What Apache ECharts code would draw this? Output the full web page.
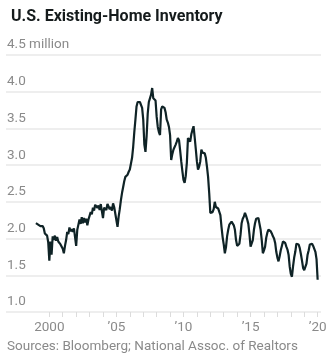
<!DOCTYPE html>
<html>
<head>
<meta charset="utf-8">
<script src="https://cdn.jsdelivr.net/npm/echarts@6/dist/echarts.min.js"></script>
<style>
  html, body { margin: 0; padding: 0; background: #fff; }
  #chart { width: 331px; height: 362px; }
</style>
</head>
<body>
<div id="chart"></div>
<script>
// Existing-home inventory, millions of units, monthly (Jan..Dec)
const startYear = 1999;
const inv1999 = [2.21, 2.21, 2.19, 2.20, 2.17, 2.16, 2.17, 2.14, 2.07, 2.05, 2.04, 1.95];
const inv2000 = [1.70, 1.96, 1.78, 2.03, 1.98, 2.04, 1.97, 2.02, 1.96, 1.98, 1.92, 1.90];
const inv2001 = [1.86, 1.80, 1.90, 1.98, 2.09, 2.06, 2.15, 2.10, 2.13, 2.09, 2.14, 2.16];
const inv2002 = [1.90, 2.12, 2.19, 2.26, 2.20, 2.29, 2.21, 2.28, 2.22, 2.27, 2.18, 2.26];
const inv2003 = [2.28, 2.36, 2.33, 2.42, 2.38, 2.46, 2.48, 2.42, 2.45, 2.39, 2.47, 2.48];
const inv2004 = [2.28, 2.42, 2.44, 2.39, 2.47, 2.46, 2.40, 2.43, 2.38, 2.48, 2.43, 2.41];
const inv2005 = [2.25, 2.16, 2.30, 2.40, 2.52, 2.62, 2.70, 2.78, 2.84, 2.82, 2.87, 2.91];
const inv2006 = [2.94, 2.96, 3.10, 3.25, 3.45, 3.62, 3.80, 3.86, 3.85, 3.86, 3.84, 3.78];
const inv2007 = [3.62, 3.28, 3.18, 3.39, 3.70, 3.86, 3.91, 3.96, 4.05, 3.91, 3.90, 3.88];
const inv2008 = [3.66, 3.52, 3.45, 3.41, 3.76, 3.80, 3.82, 3.78, 3.72, 3.62, 3.58, 3.52];
const inv2009 = [3.41, 3.07, 3.15, 3.21, 3.23, 3.28, 3.32, 3.37, 3.34, 3.20, 3.05, 2.92];
const inv2010 = [2.80, 2.76, 2.85, 3.03, 3.37, 3.35, 3.32, 3.42, 3.48, 3.53, 3.38, 3.22];
const inv2011 = [3.05, 2.94, 2.98, 3.05, 3.21, 3.17, 3.16, 3.16, 3.10, 2.98, 2.84, 2.62];
const inv2012 = [2.35, 2.35, 2.36, 2.40, 2.50, 2.43, 2.41, 2.41, 2.40, 2.32, 2.16, 2.02];
const inv2013 = [1.92, 1.80, 1.88, 2.03, 2.12, 2.19, 2.21, 2.23, 2.21, 2.18, 2.12, 1.98];
const inv2014 = [1.90, 1.89, 1.93, 2.05, 2.21, 2.27, 2.30, 2.35, 2.31, 2.26, 2.20, 2.06];
const inv2015 = [1.89, 1.89, 1.98, 2.12, 2.21, 2.27, 2.29, 2.28, 2.20, 2.12, 1.98, 1.80];
const inv2016 = [1.84, 1.89, 2.01, 2.08, 2.12, 2.14, 2.10, 2.07, 2.03, 2.00, 1.94, 1.82];
const inv2017 = [1.74, 1.69, 1.76, 1.84, 1.90, 1.96, 1.96, 1.94, 1.89, 1.85, 1.78, 1.62];
const inv2018 = [1.52, 1.48, 1.62, 1.74, 1.82, 1.93, 1.94, 1.92, 1.87, 1.79, 1.70, 1.60];
const inv2019 = [1.57, 1.55, 1.66, 1.78, 1.84, 1.92, 1.94, 1.93, 1.90, 1.86, 1.82, 1.72];
const inv2020 = [1.44];

const labelYears = [2000, 2005, 2010, 2015, 2020];
const labelTexts = ['2000', '\u201905', '\u201910', '\u201915', '\u201920'];
const tickYears = [2000, 2001, 2002, 2003, 2004, 2005, 2006, 2007, 2008, 2009, 2010,
                   2011, 2012, 2013, 2014, 2015, 2016, 2017, 2018, 2019, 2020];
const yTicks = [1.0, 1.5, 2.0, 2.5, 3.0, 3.5, 4.0, 4.5];

const yearly = [inv1999, inv2000, inv2001, inv2002, inv2003, inv2004, inv2005,
                inv2006, inv2007, inv2008, inv2009, inv2010, inv2011, inv2012,
                inv2013, inv2014, inv2015, inv2016, inv2017, inv2018, inv2019, inv2020];

// Flatten into [fractional year, value] pairs
const points = [];
yearly.forEach((months, i) => {
  months.forEach((v, m) => points.push([startYear + i + m / 12, v]));
});

const gray = '#8a8a8a';
const font = 'Roboto, "Open Sans", sans-serif';

const chart = echarts.init(document.getElementById('chart'), null, { renderer: 'canvas' });
chart.setOption({
  animation: false,
  backgroundColor: '#ffffff',
  title: {
    text: 'U.S. Existing-Home Inventory',
    left: 6,
    top: 4,
    textStyle: { fontFamily: font, fontSize: 16, fontWeight: 'bold', color: '#151b1c' }
  },
  graphic: [{
    type: 'text',
    left: 7,
    top: 340,
    style: {
      text: 'Sources: Bloomberg; National Assoc. of Realtors',
      fontFamily: font, fontSize: 13.5, fill: gray
    }
  }],
  grid: { left: 6, right: 10, top: 55, bottom: 50 },
  xAxis: {
    type: 'value',
    min: 1996.77,
    max: 2020.25,
    axisLine: { show: false },
    splitLine: { show: false },
    axisTick: {
      show: true,
      customValues: tickYears,
      length: 5,
      lineStyle: { color: '#dcdcdc', width: 1 }
    },
    axisLabel: {
      customValues: labelYears,
      formatter: v => labelTexts[labelYears.indexOf(Math.round(v))],
      color: gray,
      fontFamily: font,
      fontSize: 13.5,
      margin: 9
    }
  },
  yAxis: {
    type: 'value',
    min: 1.0,
    max: 4.5,
    interval: 0.5,
    axisLine: { show: false },
    axisTick: { show: false },
    splitLine: { lineStyle: { color: '#eeeeee', width: 2 } },
    axisLabel: {
      inside: true,
      margin: 1,
      verticalAlign: 'bottom',
      padding: [0, 0, 3, 0],
      color: gray,
      fontFamily: font,
      fontSize: 13.5,
      formatter: v => {
        const t = yTicks.find(y => Math.abs(y - v) < 1e-6);
        if (t === undefined) return '';
        return t === 4.5 ? '4.5 million' : t.toFixed(1);
      }
    }
  },
  series: [{
    type: 'line',
    data: points,
    showSymbol: false,
    lineStyle: { color: '#0f2326', width: 2.2 },
    z: 3
  }]
});
</script>
</body>
</html>
